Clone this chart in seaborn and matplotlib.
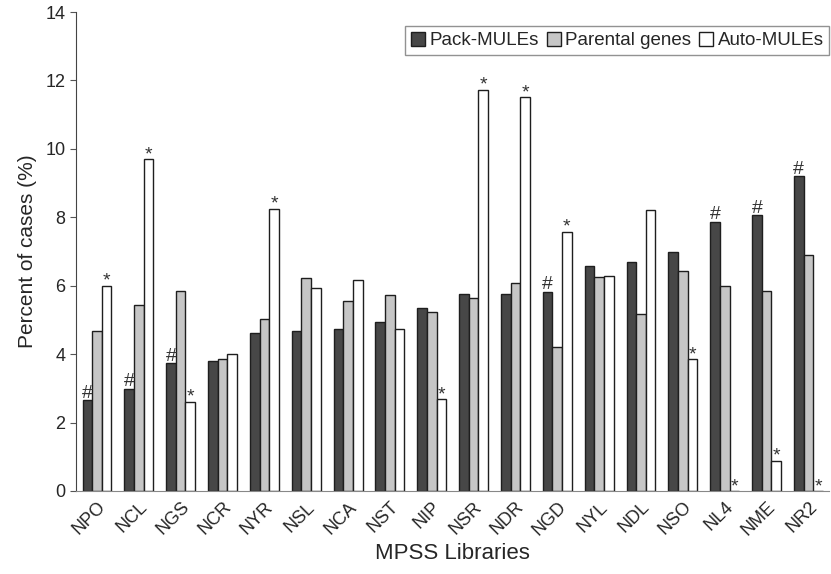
import pandas as pd
import matplotlib.pyplot as plt
import seaborn as sns

# values
libraries = ['NPO', 'NCL', 'NGS', 'NCR', 'NYR', 'NSL', 'NCA', 'NST', 'NIP',
             'NSR', 'NDR', 'NGD', 'NYL', 'NDL', 'NSO', 'NL4', 'NME', 'NR2']
pack_mules = [2.66, 2.99, 3.73, 3.80, 4.61, 4.67, 4.74, 4.94, 5.34,
              5.76, 5.76, 5.83, 6.58, 6.70, 6.99, 7.87, 8.06, 9.21]
parental = [4.68, 5.44, 5.86, 3.86, 5.03, 6.24, 5.55, 5.74, 5.23,
            5.65, 6.08, 4.22, 6.27, 5.18, 6.44, 5.99, 5.86, 6.91]
auto_mules = [6.00, 9.70, 2.61, 4.01, 8.25, 5.94, 6.17, 4.74, 2.68,
              11.73, 11.51, 7.58, 6.29, 8.22, 3.85, 0.0, 0.89, 0.0]
hash_marks = ['NPO', 'NCL', 'NGS', 'NGD', 'NL4', 'NME', 'NR2']
star_marks = ['NPO', 'NCL', 'NGS', 'NYR', 'NIP', 'NSR', 'NDR', 'NGD',
              'NSO', 'NL4', 'NME', 'NR2']
series = ['Pack-MULEs', 'Parental genes', 'Auto-MULEs']

df = pd.DataFrame({
    'lib': libraries * 3,
    'group': [s for s in series for _ in libraries],
    'value': pack_mules + parental + auto_mules,
})

sns.set_style('white')
plt.rcParams['font.family'] = ['Liberation Sans', 'DejaVu Sans']

fig = plt.figure(figsize=(8.31, 5.74), dpi=100)
ax = fig.add_axes([0.0915, 0.1446, 0.9065, 0.8344])

palette = {'Pack-MULEs': '#474747', 'Parental genes': '#c6c6c6', 'Auto-MULEs': '#ffffff'}
sns.barplot(data=df, x='lib', y='value', hue='group', hue_order=series,
            palette=palette, width=0.69, edgecolor='#1e1e1e', linewidth=1.0,
            saturation=1, ax=ax)

# '#' over Pack-MULEs bars, '*' over Auto-MULEs bars
for lib, bar in zip(libraries, ax.containers[0]):
    if lib in hash_marks:
        ax.text(bar.get_x() + bar.get_width() / 2, bar.get_height() - 0.05, '#',
                ha='center', va='bottom', fontsize=14, color='#333333')
for lib, bar in zip(libraries, ax.containers[2]):
    if lib in star_marks:
        ax.text(bar.get_x() + bar.get_width() / 2, bar.get_height() - 0.12, '*',
                ha='center', va='bottom', fontsize=14, color='#333333')

ax.set_ylim(0, 14)
ax.set_xlim(-0.5, len(libraries) - 0.5)
ax.set_yticks(range(0, 15, 2))
ax.tick_params(axis='y', left=True, length=4, color='#555555', labelsize=13)
ax.tick_params(axis='x', bottom=False, labelsize=13, pad=2)
plt.setp(ax.get_xticklabels(), rotation=45, ha='right', rotation_mode='anchor')
ax.set_ylabel('Percent of cases (%)', fontsize=15, labelpad=6)
ax.set_xlabel('MPSS Libraries', fontsize=16)
ax.xaxis.set_label_coords(0.5, -0.108)

sns.despine(ax=ax)
ax.spines['left'].set_color('#444444')
ax.spines['bottom'].set_color('#888888')

leg = ax.legend(loc='upper right', bbox_to_anchor=(1.0, 0.97), ncol=3,
                fontsize=13.5, frameon=True, fancybox=False, handlelength=0.75,
                handleheight=0.75, handletextpad=0.25, columnspacing=0.4,
                borderpad=0.3, borderaxespad=0.0)
leg.get_frame().set_edgecolor('#777777')
leg.get_frame().set_linewidth(1.0)

fig.savefig('out.png', dpi=100)
